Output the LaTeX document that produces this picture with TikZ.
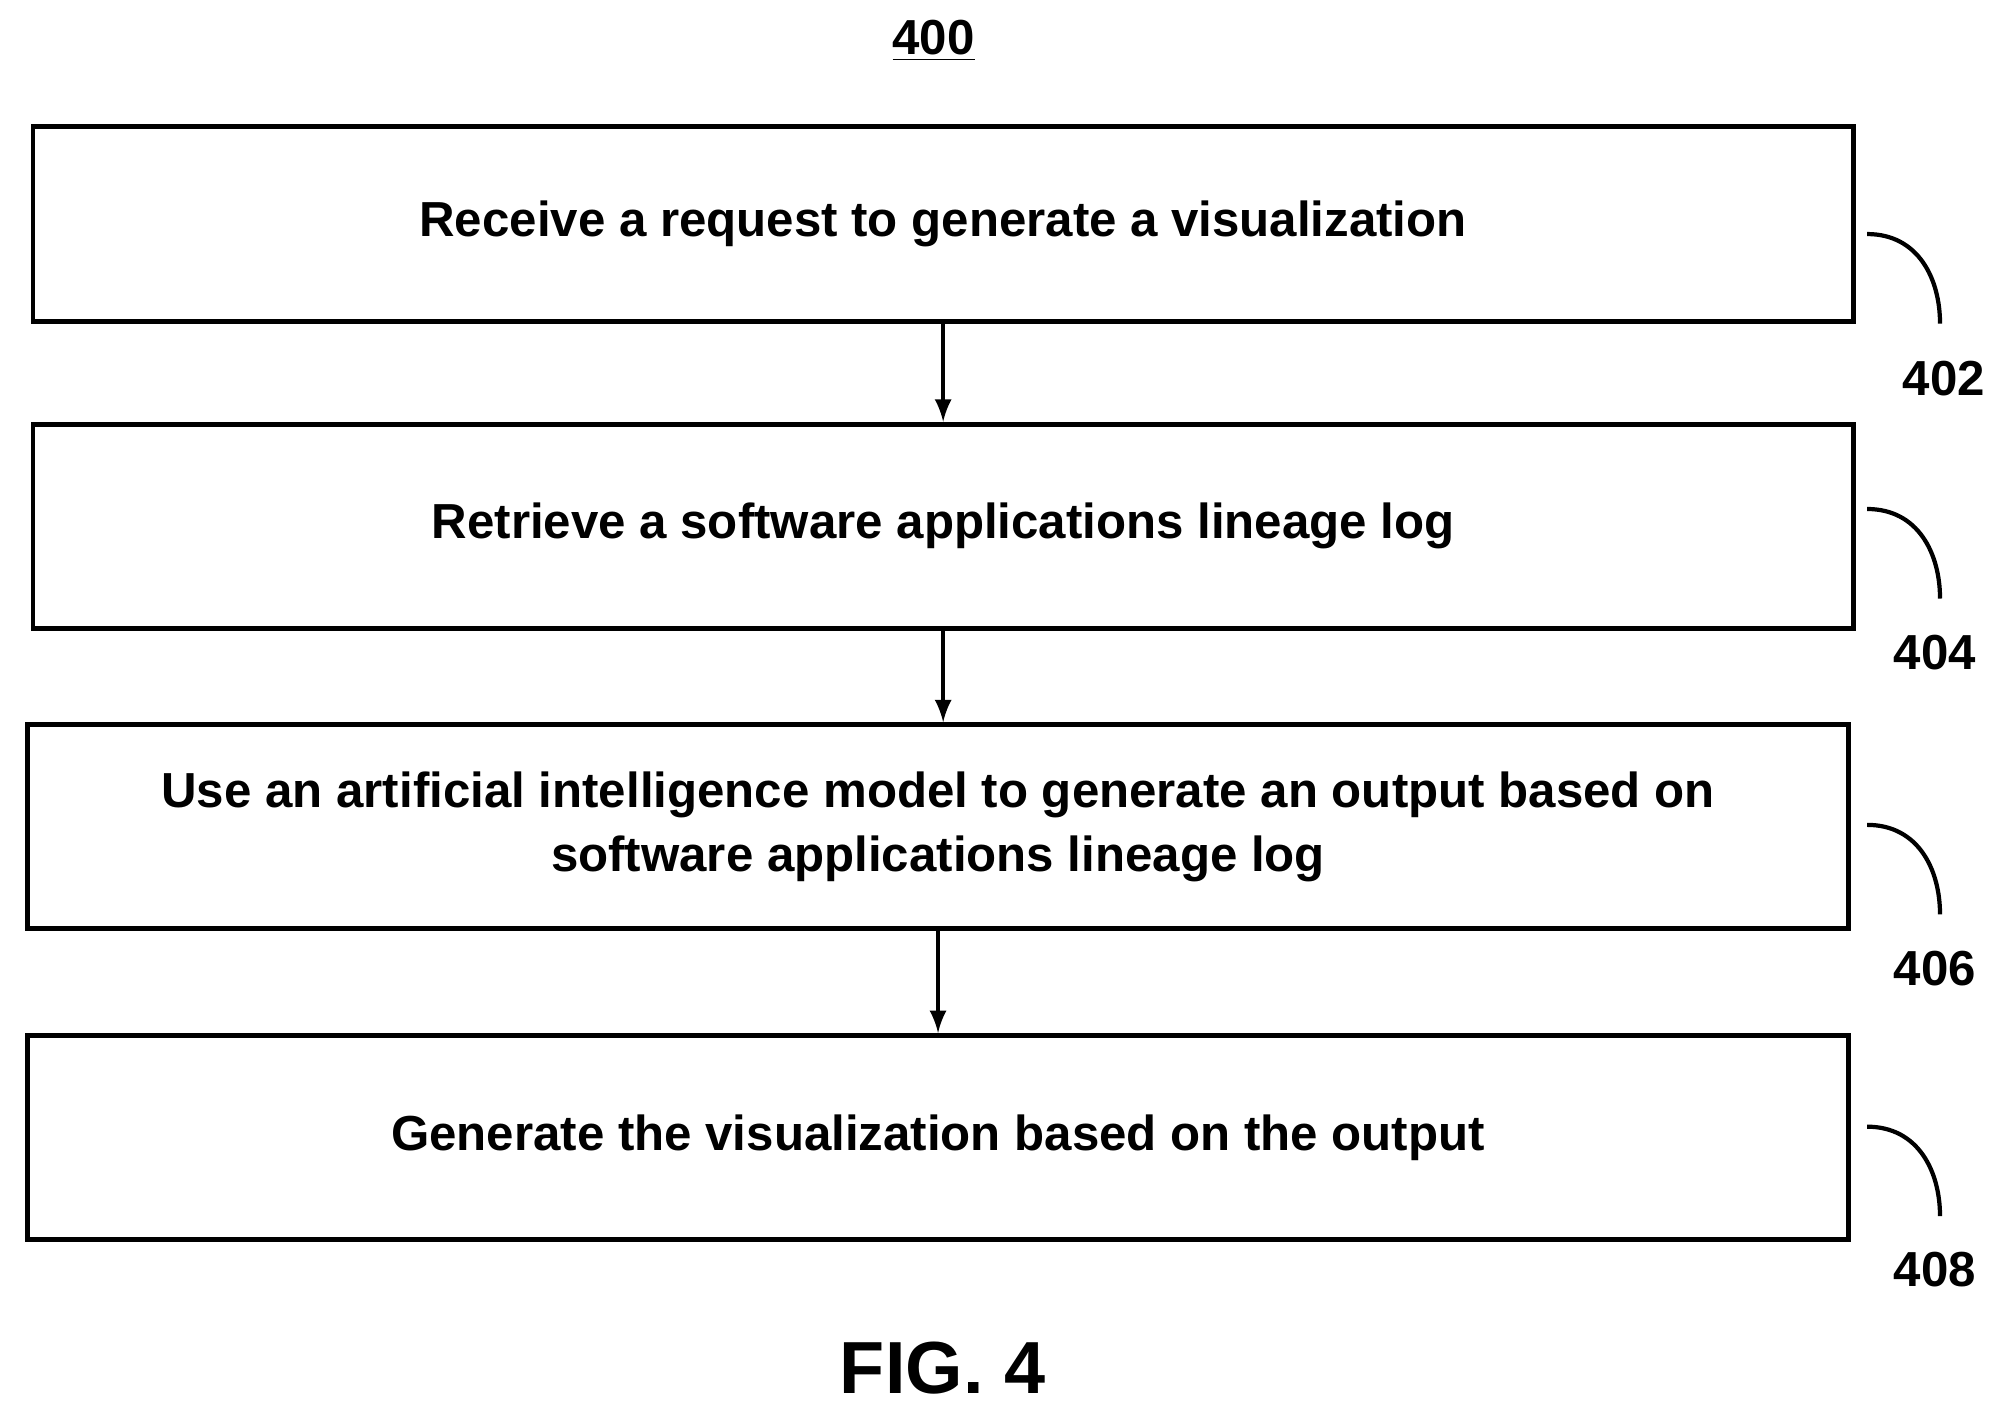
\documentclass[tikz,border=0pt]{standalone}
\usepackage{fontspec}
\setmainfont{Liberation Sans}
\usetikzlibrary{arrows,positioning,calc}

\begin{document}
\begin{tikzpicture}[x=0.01279cm, y=-0.01279cm,
    every node/.style={font=\bfseries\fontsize{14}{18}\selectfont},
    stepbox/.style={draw, line width=1.4pt, minimum width=18.2cm, align=center, inner sep=0pt},
    flow/.style={-latex, line width=1.2pt}]
    \useasboundingbox (0,0) rectangle (1560,1102);

    % Title
    \node (title) at (730,32) {\underline{400}};

    % Steps
    \node[stepbox, minimum height=1.95cm] (s402) at (737.5,175) {Receive a request to generate a visualization};
    \node[stepbox, minimum height=2.04cm] (s404) at (737.5,411.5) {Retrieve a software applications lineage log};
    \node[stepbox, minimum height=2.04cm] (s406) at (733.5,646.5) {Use an artificial intelligence model to generate an output based on\\software applications lineage log};
    \node[stepbox, minimum height=2.04cm] (s408) at (733.5,889.5) {Generate the visualization based on the output};

    % Arrows
    \draw[flow] (s402.south) -- (s402.south |- s404.north);
    \draw[flow] (s404.south) -- (s404.south |- s406.north);
    \draw[flow] (s406.south) -- (s406.south |- s408.north);

    % Reference numerals
    \foreach \ref/\y/\lx/\ly in {402/183/1520/296, 404/398/1513/510, 406/645/1513/757, 408/881/1513/993} {
        \node (n\ref) at (\lx,\ly) {\ref};
        \draw[line width=1.2pt] (1460,\y) .. controls (1500,\y) and (1517,\y+35) .. (1517,\y+70);
    }

    % Figure label
    \node[font=\bfseries\fontsize{21}{25}\selectfont] (fig) at (737,1070) {FIG. 4};
\end{tikzpicture}
\end{document}
